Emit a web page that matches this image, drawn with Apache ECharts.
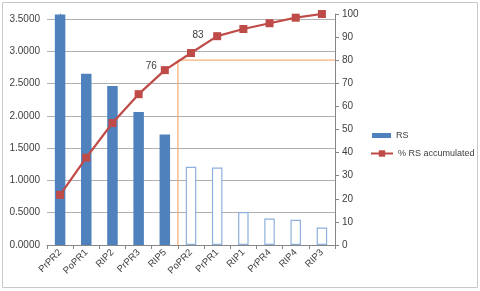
<!DOCTYPE html>
<html><head><meta charset="utf-8">
<script src="https://cdn.jsdelivr.net/npm/echarts@6/dist/echarts.min.js"></script>
<style>html,body{margin:0;padding:0;background:#fff}#c{width:480px;height:291px}</style>
</head><body><div id="c"></div>
<script>
const categories = ['PrPR2','PoPR1','RIP2','PrPR3','RIP5','PoPR2','PrPR1','RIP1','PrPR4','RIP4','RIP3'];
const rsValues = [3.57, 2.65, 2.46, 2.06, 1.71, 1.21, 1.20, 0.51, 0.41, 0.39, 0.27];
const accumulated = [21.7, 37.8, 52.8, 65.3, 75.7, 83.1, 90.4, 93.5, 96.0, 98.4, 100];
const leftTicks = [0, 0.5, 1.0, 1.5, 2.0, 2.5, 3.0, 3.5];
const rightTicks = [0, 10, 20, 30, 40, 50, 60, 70, 80, 90, 100];
const vitalCount = 5;        // first 5 categories filled
const threshold = 80;        // 80% cutoff line
const labeledPoints = [4, 5]; // indices with value labels

const font = 'Liberation Sans';
const txt = '#404040';
const chart = echarts.init(document.getElementById('c'), null, {renderer:'canvas'});

const barData = rsValues.map((v,i) => i < vitalCount
  ? {value: v, itemStyle: {color: '#4f81bd', borderColor: '#4f81bd', borderWidth: 0}}
  : {value: v, itemStyle: {color: '#ffffff', borderColor: '#8eb0dc', borderWidth: 1.2}});

const lineData = accumulated.map((v,i) => {
  if (i === labeledPoints[0]) return {value: v, label: {show: true, position: 'left', offset: [1, -4]}};
  if (i === labeledPoints[1]) return {value: v, label: {show: true, position: 'top', offset: [7, -4]}};
  return v;
});

const cut = vitalCount - 0.5;
const lastEdge = categories.length - 0.5;

chart.setOption({
  animation: false,
  textStyle: {fontFamily: font},
  grid: {left: 47, right: 145, top: 14, bottom: 46, containLabel: false},
  graphic: [{type: 'rect', shape: {x: 2.5, y: 2.5, width: 475, height: 285}, style: {fill: 'none', stroke: '#c8c8c8', lineWidth: 1}, silent: true, z: -1}],
  legend: [
    {data: [{name: 'RS', icon: 'rect'}], left: 372, top: 131, itemWidth: 19, itemHeight: 5, padding: 0,
     textStyle: {fontFamily: font, fontSize: 9, color: txt}},
    {data: [{name: '% RS accumulated'}], left: 370, top: 149, itemWidth: 22, itemHeight: 8, padding: 0,
     textStyle: {fontFamily: font, fontSize: 9, color: txt, width: 100, overflow: 'none'}}
  ],
  xAxis: [
    {type: 'category', data: categories, boundaryGap: true,
     axisLine: {lineStyle: {color: '#868686'}},
     axisTick: {show: true, alignWithLabel: false, length: 4, lineStyle: {color: '#868686'}},
     axisLabel: {rotate: 45, fontSize: 9.5, color: txt, margin: 6, fontFamily: font}},
    {type: 'value', min: -0.5, max: lastEdge, show: false}
  ],
  yAxis: [
    {type: 'value', min: 0, max: 3.576, interval: 0.5, position: 'left',
     axisLine: {show: true, lineStyle: {color: '#868686'}},
     axisTick: {show: true, length: 4, lineStyle: {color: '#868686'}},
     axisLabel: {color: txt, fontSize: 10, margin: 7, showMaxLabel: false,
       formatter: v => leftTicks.includes(+v.toFixed(4)) ? v.toFixed(4) : ''},
     splitLine: {show: true, showMaxLine: false, lineStyle: {color: '#b0b0b0', width: 1}}},
    {type: 'value', min: 0, max: 100, interval: 10, position: 'right',
     axisLine: {show: true, lineStyle: {color: '#868686'}},
     axisTick: {show: true, length: 4, lineStyle: {color: '#868686'}},
     axisLabel: {color: txt, fontSize: 10, margin: 7,
       formatter: v => rightTicks.includes(v) ? String(v) : ''},
     splitLine: {show: false}}
  ],
  series: [
    {name: 'RS', type: 'bar', data: barData, barWidth: 10.5, xAxisIndex: 0, yAxisIndex: 0,
     itemStyle: {color: '#4f81bd'}, z: 2},
    {name: 'cutoff', type: 'line', xAxisIndex: 1, yAxisIndex: 1,
     data: [[cut, 0], [cut, threshold], [lastEdge, threshold]],
     symbol: 'none', lineStyle: {color: '#f9b07a', width: 1.3}, z: 3, silent: true},
    {name: '% RS accumulated', type: 'line', data: lineData, xAxisIndex: 0, yAxisIndex: 1,
     symbol: 'rect', symbolSize: 8,
     lineStyle: {color: '#be4b48', width: 2.2}, itemStyle: {color: '#be4b48'},
     label: {show: false, color: txt, fontSize: 10, fontFamily: font,
       formatter: p => String(Math.round(p.value))}, z: 5}
  ]
});
</script></body></html>
